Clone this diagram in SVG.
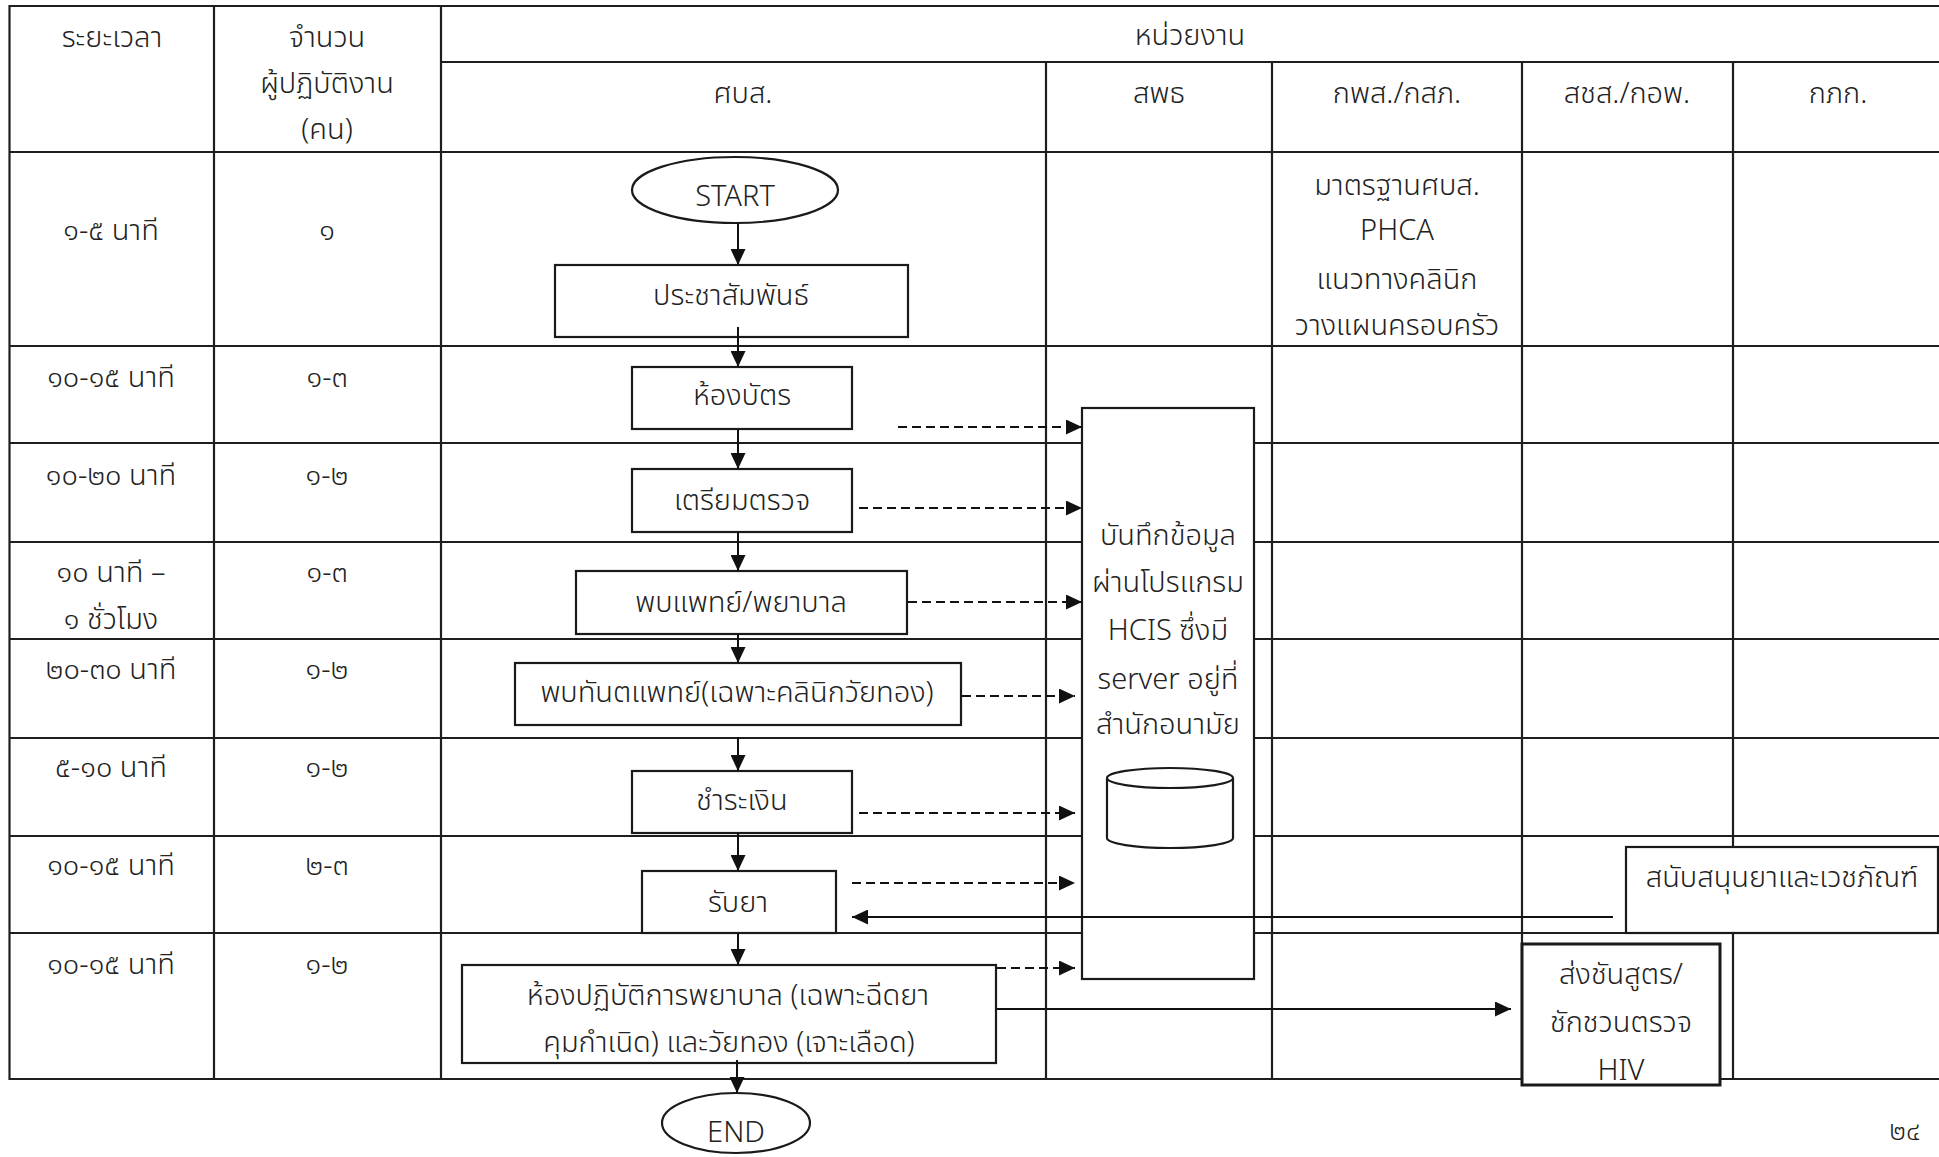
<svg xmlns="http://www.w3.org/2000/svg" width="1939" height="1157" viewBox="0 0 1939 1157">
<style>
.t{font-family:'Noto Sans Thai','Noto Sans','Liberation Sans',sans-serif;font-size:29px;fill:#222;text-anchor:middle;font-weight:300;transform:translate(0px,2px)}
.grid line{stroke:#1e1e1e;stroke-width:2.2}
.box{fill:#fff;stroke:#1a1a1a;stroke-width:2.2}
.c{stroke:#111;stroke-width:2;fill:none}
.d{stroke:#111;stroke-width:2;fill:none;stroke-dasharray:9 5}
</style>
<defs>
<marker id="ah" markerUnits="userSpaceOnUse" markerWidth="16" markerHeight="15" refX="16" refY="7.5" orient="auto">
<path d="M0,0 L16,7.5 L0,15 z" fill="#111"/>
</marker>
</defs>
<rect width="1939" height="1157" fill="#fff"/>
<g id="table" class="grid">
<line x1="9" y1="6" x2="1939" y2="6"/>
<line x1="9.5" y1="5" x2="9.5" y2="1080"/>
<line x1="9" y1="1079" x2="1939" y2="1079"/>
<line x1="441" y1="62" x2="1939" y2="62"/>
<line x1="9" y1="152" x2="1939" y2="152"/>
<line x1="9" y1="346" x2="1939" y2="346"/>
<line x1="9" y1="443" x2="1939" y2="443"/>
<line x1="9" y1="542" x2="1939" y2="542"/>
<line x1="9" y1="639" x2="1939" y2="639"/>
<line x1="9" y1="738" x2="1939" y2="738"/>
<line x1="9" y1="836" x2="1939" y2="836"/>
<line x1="9" y1="933" x2="1939" y2="933"/>
<line x1="214" y1="6" x2="214" y2="1079"/>
<line x1="441" y1="6" x2="441" y2="1079"/>
<line x1="1046" y1="62" x2="1046" y2="1079"/>
<line x1="1272" y1="62" x2="1272" y2="1079"/>
<line x1="1522" y1="62" x2="1522" y2="1079"/>
<line x1="1733" y1="62" x2="1733" y2="1079"/>
</g>
<g id="headers">
<text class="t" x="112" y="45">ระยะเวลา</text>
<text class="t" x="327" y="45">จำนวน</text>
<text class="t" x="327" y="91">ผู้ปฏิบัติงาน</text>
<text class="t" x="327" y="137">(คน)</text>
<text class="t" x="1190" y="43">หน่วยงาน</text>
<text class="t" x="743" y="101">ศบส.</text>
<text class="t" x="1159" y="101">สพธ</text>
<text class="t" x="1397" y="101">กพส./กสภ.</text>
<text class="t" x="1627" y="101">สชส./กอพ.</text>
<text class="t" x="1838" y="101">กภก.</text>
</g>
<g id="rowlabels">
<text class="t" x="111" y="238">๑-๕ นาที</text><text class="t" x="327" y="238">๑</text>
<text class="t" x="111" y="385">๑๐-๑๕ นาที</text><text class="t" x="327" y="385">๑-๓</text>
<text class="t" x="111" y="483">๑๐-๒๐ นาที</text><text class="t" x="327" y="483">๑-๒</text>
<text class="t" x="111" y="580">๑๐ นาที –</text><text class="t" x="111" y="627">๑ ชั่วโมง</text><text class="t" x="327" y="580">๑-๓</text>
<text class="t" x="111" y="677">๒๐-๓๐ นาที</text><text class="t" x="327" y="677">๑-๒</text>
<text class="t" x="111" y="775">๕-๑๐ นาที</text><text class="t" x="327" y="775">๑-๒</text>
<text class="t" x="111" y="873">๑๐-๑๕ นาที</text><text class="t" x="327" y="873">๒-๓</text>
<text class="t" x="111" y="972">๑๐-๑๕ นาที</text><text class="t" x="327" y="972">๑-๒</text>
</g>
<g id="standards">
<text class="t" x="1397" y="193">มาตรฐานศบส.</text>
<text class="t" x="1397" y="238">PHCA</text>
<text class="t" x="1397" y="287">แนวทางคลินิก</text>
<text class="t" x="1397" y="333">วางแผนครอบครัว</text>
</g>
<g id="start"><ellipse class="box" cx="735" cy="190" rx="103" ry="33"/><text class="t" x="735" y="204">START</text></g>
<g id="pr"><rect class="box" x="555" y="265" width="353" height="72"/><text class="t" x="731" y="303">ประชาสัมพันธ์</text></g>
<g id="card"><rect class="box" x="632" y="367" width="220" height="62"/><text class="t" x="742" y="403">ห้องบัตร</text></g>
<g id="prep"><rect class="box" x="632" y="469" width="220" height="63"/><text class="t" x="742" y="508">เตรียมตรวจ</text></g>
<g id="doctor"><rect class="box" x="576" y="571" width="331" height="63"/><text class="t" x="741" y="610">พบแพทย์/พยาบาล</text></g>
<g id="dentist"><rect class="box" x="515" y="663" width="446" height="62"/><text class="t" x="737" y="700">พบทันตแพทย์(เฉพาะคลินิกวัยทอง)</text></g>
<g id="pay"><rect class="box" x="632" y="771" width="220" height="62"/><text class="t" x="742" y="808">ชำระเงิน</text></g>
<g id="drug"><rect class="box" x="642" y="871" width="194" height="62"/><text class="t" x="738" y="910">รับยา</text></g>
<g id="nursing"><rect class="box" x="462" y="965" width="534" height="98"/>
<text class="t" x="728" y="1003">ห้องปฏิบัติการพยาบาล (เฉพาะฉีดยา</text>
<text class="t" x="729" y="1050">คุมกำเนิด) และวัยทอง (เจาะเลือด)</text></g>
<g id="end"><ellipse class="box" cx="736" cy="1123" rx="74" ry="30"/><text class="t" x="736" y="1140">END</text></g>
<g id="hcis"><rect class="box" x="1082" y="408" width="172" height="571"/>
<text class="t" x="1168" y="543">บันทึกข้อมูล</text>
<text class="t" x="1168" y="590">ผ่านโปรแกรม</text>
<text class="t" x="1168" y="638">HCIS ซึ่งมี</text>
<text class="t" x="1168" y="687">server อยู่ที่</text>
<text class="t" x="1168" y="732">สำนักอนามัย</text>
<path class="box" d="M1107,778 V838 A63,10 0 0 0 1233,838 V778"/>
<ellipse class="box" cx="1170" cy="778" rx="63" ry="10"/>
</g>
<g id="supply"><rect class="box" x="1626" y="847" width="312" height="86"/><text class="t" x="1782" y="885">สนับสนุนยาและเวชภัณฑ์</text></g>
<g id="lab"><rect class="box" x="1522" y="944" width="198" height="141" style="stroke-width:3"/>
<text class="t" x="1621" y="982">ส่งชันสูตร/</text>
<text class="t" x="1621" y="1030">ชักชวนตรวจ</text>
<text class="t" x="1621" y="1078">HIV</text></g>
<g id="connectors">
<line class="c" x1="738" y1="223" x2="738" y2="265" marker-end="url(#ah)"/>
<line class="c" x1="738" y1="327" x2="738" y2="367" marker-end="url(#ah)"/>
<line class="c" x1="738" y1="429" x2="738" y2="469" marker-end="url(#ah)"/>
<line class="c" x1="738" y1="532" x2="738" y2="571" marker-end="url(#ah)"/>
<line class="c" x1="738" y1="634" x2="738" y2="663" marker-end="url(#ah)"/>
<line class="c" x1="738" y1="737" x2="738" y2="771" marker-end="url(#ah)"/>
<line class="c" x1="738" y1="833" x2="738" y2="871" marker-end="url(#ah)"/>
<line class="c" x1="738" y1="933" x2="738" y2="965" marker-end="url(#ah)"/>
<line class="c" x1="737" y1="1060" x2="737" y2="1093" marker-end="url(#ah)"/>
<line class="d" x1="898" y1="427" x2="1082" y2="427" marker-end="url(#ah)"/>
<line class="d" x1="859" y1="508" x2="1082" y2="508" marker-end="url(#ah)"/>
<line class="d" x1="908" y1="602" x2="1082" y2="602" marker-end="url(#ah)"/>
<line class="d" x1="962" y1="696" x2="1075" y2="696" marker-end="url(#ah)"/>
<line class="d" x1="859" y1="813" x2="1075" y2="813" marker-end="url(#ah)"/>
<line class="d" x1="852" y1="883" x2="1075" y2="883" marker-end="url(#ah)"/>
<line class="d" x1="997" y1="968" x2="1075" y2="968" marker-end="url(#ah)"/>
<line class="c" x1="1613" y1="917" x2="852" y2="917" marker-end="url(#ah)"/>
<line class="c" x1="996" y1="1009" x2="1511" y2="1009" marker-end="url(#ah)"/>
</g>
<text class="t" x="1905" y="1138" style="font-size:27px">๒๔</text>
</svg>
